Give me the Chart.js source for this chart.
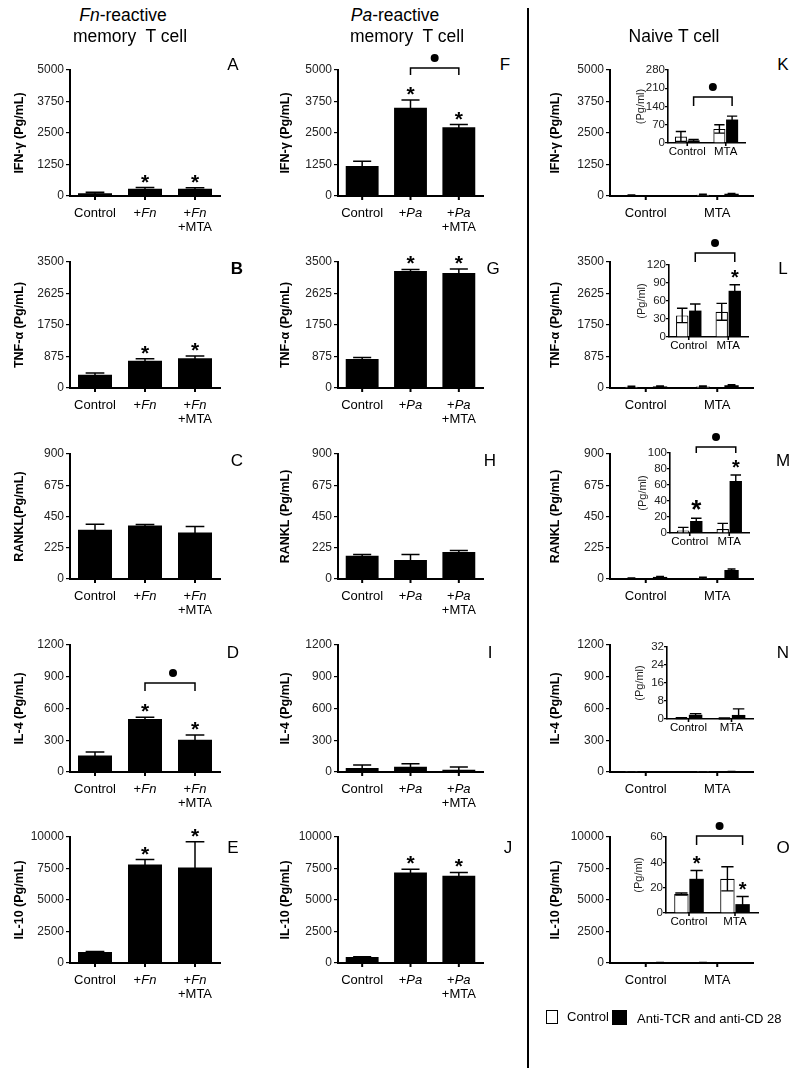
<!DOCTYPE html>
<html><head><meta charset="utf-8">
<script src="https://cdn.jsdelivr.net/npm/chart.js@4.4.1/dist/chart.umd.min.js"></script>
<style>
html,body{margin:0;padding:0;background:#fff;}
body{width:800px;height:1068px;position:relative;overflow:hidden;font-family:Arial,"Liberation Sans",sans-serif;color:#000;}
canvas{position:absolute;}
.t{position:absolute;white-space:nowrap;transform:translate(-50%,-50%);line-height:1;}
</style></head><body>
<script>
// ---------------- DATA ----------------
const categoriesFn = ["Control", "+_Fn_", "+_Fn_|+MTA"];
const categoriesPa = ["Control", "+_Pa_", "+_Pa_|+MTA"];
const categoriesNaive = ["Control", "MTA"];

// tick labels
const ticksIFN = [0, 1250, 2500, 3750, 5000];
const ticksTNF = [0, 875, 1750, 2625, 3500];
const ticksRANKL = [0, 225, 450, 675, 900];
const ticksIL4 = [0, 300, 600, 900, 1200];
const ticksIL10 = [0, 2500, 5000, 7500, 10000];
const ticksInsetIFN = [0, 70, 140, 210, 280];
const ticksInsetTNF = [0, 30, 60, 90, 120];
const ticksInsetRANKL = [0, 20, 40, 60, 80, 100];
const ticksInsetIL4 = [0, 8, 16, 24, 32];
const ticksInsetIL10 = [0, 20, 40, 60];

// Fn-reactive memory T cell (pg/mL) mean and SD
const ifnFn = [110, 290, 285];     const ifnFnSD = [40, 45, 45];
const tnfFn = [370, 760, 825];     const tnfFnSD = [45, 55, 65];
const ranklFn = [355, 385, 335];   const ranklFnSD = [40, 8, 43];
const il4Fn = [155, 500, 305];     const il4FnSD = [34, 18, 45];
const il10Fn = [870, 7820, 7580];  const il10FnSD = [50, 390, 2050];

// Pa-reactive memory T cell
const ifnPa = [1195, 3500, 2730];  const ifnPaSD = [185, 305, 105];
const tnfPa = [805, 3250, 3195];   const tnfPaSD = [45, 45, 110];
const ranklPa = [168, 136, 194];   const ranklPaSD = [9, 41, 12];
const il4Pa = [38, 50, 22];        const il4PaSD = [28, 29, 25];
const il10Pa = [474, 7185, 6920];  const il10PaSD = [20, 262, 264];

// Naive T cell: Control (open) and Anti-TCR + anti-CD28 (filled)
const ifnNaiveCtrl = [25, 54];      const ifnNaiveCtrlSD = [19, 16];
const ifnNaiveStim = [10, 90];      const ifnNaiveStimSD = [4, 13];
const tnfNaiveCtrl = [36, 42];      const tnfNaiveCtrlSD = [12, 14];
const tnfNaiveStim = [44, 77];      const tnfNaiveStimSD = [11, 10];
const ranklNaiveCtrl = [3, 5];      const ranklNaiveCtrlSD = [4, 7];
const ranklNaiveStim = [15, 65];    const ranklNaiveStimSD = [3.5, 7.5];
const il4NaiveCtrl = [0.4, 0.3];    const il4NaiveCtrlSD = [0.2, 0.2];
const il4NaiveStim = [1.9, 1.8];    const il4NaiveStimSD = [0.5, 2.7];
const il10NaiveCtrl = [15, 27];     const il10NaiveCtrlSD = [0.8, 9.5];
const il10NaiveStim = [27, 7];      const il10NaiveStimSD = [6.5, 6];

// significance (1 = *, 2 = large *)
const starsFnPa = [0, 1, 1];
const starsNone3 = [0, 0, 0];
const starsNone2 = [0, 0];
const starsStimL = [0, 1];
const starsStimM = [2, 1];
const starsStimO = [1, 1];

// ---------------- LAYOUT ----------------
const FONT = 'Arial, "Liberation Sans", sans-serif';
Chart.defaults.font.family = FONT;
Chart.defaults.color = '#000';

const COLS = [{axis:70,right:220,yw:62},{axis:338,right:483,yw:64},{axis:610,right:753,yw:66}];
const ROWS = [{top:70,bottom:196},{top:262,bottom:388},{top:454,bottom:579},{top:645,bottom:772},{top:837,bottom:963}];

const BLACK = '#000', WHITE = '#fff';

function drawMixed(ctx, str, x, y, size){
  const segs = str.split('_');
  const fonts = segs.map((s,k)=> (k%2 ? 'italic ' : '') + size + 'px ' + FONT);
  let w = 0;
  segs.forEach((s,k)=>{ ctx.font = fonts[k]; w += ctx.measureText(s).width; });
  let cx = x - w/2;
  segs.forEach((s,k)=>{ ctx.font = fonts[k]; ctx.fillText(s, cx, y); cx += ctx.measureText(s).width; });
}

function makeChart(o){
  const padT = o.padT, padR = o.padR, xh = o.xh, yw = o.yw;
  const W = (o.right - o.left) + yw + padR, H = (o.bottom - o.top) + padT + xh;
  const c = document.createElement('canvas');
  c.width = W; c.height = H;
  c.style.left = (o.left - yw) + 'px'; c.style.top = (o.top - padT) + 'px';
  c.style.width = W + 'px'; c.style.height = H + 'px';
  document.body.appendChild(c);
  const t = o.ticks;
  const deco = {
    id: 'deco',
    afterDatasetsDraw(chart){
      const ctx = chart.ctx, ys = chart.scales.y;
      ctx.save();
      ctx.strokeStyle = BLACK; ctx.lineWidth = o.errW;
      o.series.forEach((s, di)=>{
        const meta = chart.getDatasetMeta(di);
        meta.data.forEach((bar, i)=>{
          const v = s.data[i], e = s.sd[i];
          const x = bar.x, w = bar.width * o.cap;
          const yT = ys.getPixelForValue(v + e), yB = ys.getPixelForValue(Math.max(0, v - e));
          ctx.beginPath();
          ctx.moveTo(x, yB); ctx.lineTo(x, yT);
          ctx.moveTo(x - w/2, yT); ctx.lineTo(x + w/2, yT);
          if (v - e > 0) { ctx.moveTo(x - w/2, yB); ctx.lineTo(x + w/2, yB); }
          ctx.stroke();
        });
      });
      ctx.restore();
    },
    afterDraw(chart){
      const ctx = chart.ctx, xs = chart.scales.x, ys = chart.scales.y, ca = chart.chartArea;
      ctx.save();
      ctx.fillStyle = BLACK; ctx.strokeStyle = BLACK;
      // x tick marks and labels
      ctx.lineWidth = o.axisW;
      ctx.textAlign = 'left'; ctx.textBaseline = 'middle';
      o.cats.forEach((lab, i)=>{
        const x = xs.getPixelForValue(i);
        ctx.beginPath(); ctx.moveTo(x, ca.bottom); ctx.lineTo(x, ca.bottom + o.xtick); ctx.stroke();
        lab.split('|').forEach((ln, k)=> drawMixed(ctx, ln, x, ca.bottom + o.xl1 + k*o.xlh, o.xFont));
      });
      // stars
      ctx.textAlign = 'center'; ctx.textBaseline = 'alphabetic';
      o.series.forEach((s, di)=>{
        if (!s.stars) return;
        const meta = chart.getDatasetMeta(di);
        s.stars.forEach((st, i)=>{
          if (!st) return;
          const size = st === 2 ? o.starBig : o.star;
          const yT = ys.getPixelForValue(s.data[i] + s.sd[i]);
          const gap = st === 2 ? o.starGap + 3 : o.starGap;
          ctx.font = 'bold ' + size + 'px ' + FONT;
          ctx.fillText('*', meta.data[i].x, yT - gap + 0.57*size);
        });
      });
      // bracket
      if (o.bracket){
        const b = o.bracket;
        const xa = chart.getDatasetMeta(b.a[0]).data[b.a[1]].x;
        const xb = chart.getDatasetMeta(b.b[0]).data[b.b[1]].x;
        const y = ys.getPixelForValue(b.val);
        ctx.lineWidth = 1.5;
        ctx.beginPath();
        ctx.moveTo(xa, y + b.drop); ctx.lineTo(xa, y); ctx.lineTo(xb, y); ctx.lineTo(xb, y + b.drop);
        ctx.stroke();
        ctx.beginPath(); ctx.arc((xa + xb)/2 + (b.dx||0), y - 10, 4, 0, Math.PI*2); ctx.fill();
      }
      ctx.restore();
    }
  };
  new Chart(c, {
    type: 'bar',
    data: {
      labels: o.cats.map(s => s.replace(/_/g,'').replace('|',' ')),
      datasets: o.series.map(s => ({
        data: s.data,
        backgroundColor: s.fill,
        borderColor: BLACK,
        borderWidth: s.fill === WHITE ? 1.2 : 0,
        borderSkipped: 'start',
        barPercentage: o.barPct,
        categoryPercentage: o.catPct
      }))
    },
    options: {
      responsive: false, animation: false,
      layout: { padding: { top: padT, right: padR, left: 0, bottom: 0 } },
      plugins: { legend: { display: false }, tooltip: { enabled: false } },
      scales: {
        x: {
          offset: true,
          grid: { display: false },
          border: { display: true, color: BLACK, width: o.axisW },
          ticks: { display: false },
          afterFit: s => { s.height = xh; }
        },
        y: {
          min: t[0], max: t[t.length-1],
          grid: { drawOnChartArea: false, drawTicks: true, tickLength: o.ytick, color: BLACK, lineWidth: 1.2 },
          border: { display: true, color: BLACK, width: o.axisW },
          ticks: { stepSize: t[1] - t[0], autoSkip: false, callback: v => String(v), color: '#222', font: { size: o.yFont }, padding: o.yPad },
          title: { display: true, text: o.title, color: o.titleColor, font: { size: o.titleSize, weight: o.titleWeight }, padding: { top: o.titlePad, bottom: 0 } },
          afterFit: s => { s.width = yw; }
        }
      }
    },
    plugins: [deco]
  });
}

function mainPanel(col, row, cats, series, ticks, title, bracket){
  const C = COLS[col], R = ROWS[row];
  const naive = col === 2;
  makeChart({
    left: C.axis, right: C.right, top: R.top, bottom: R.bottom,
    yw: C.yw, padT: 26, padR: 8, xh: 46,
    cats, series, ticks, title, bracket,
    barPct: naive ? 0.5 : 0.68, catPct: naive ? 0.8 : 1.0,
    cap: 0.55, errW: 1.5, axisW: 2, xtick: 4, ytick: 4,
    xFont: 13, xl1: 17, xlh: 14, yFont: 12, yPad: 2,
    titleSize: 12.5, titleWeight: 'bold', titleColor: '#000', titlePad: 4,
    star: 21, starBig: 26, starGap: 11
  });
}

function insetPanel(box, series, ticks, bracket){
  makeChart({
    left: box[0], right: box[1], top: box[2], bottom: box[3],
    yw: 34, padT: 36, padR: 6, xh: 24,
    cats: categoriesNaive, series, ticks, title: '(Pg/ml)', bracket,
    barPct: 0.95, catPct: 0.66,
    cap: 0.85, errW: 1.4, axisW: 1.6, xtick: 3, ytick: 3,
    xFont: 11.5, xl1: 9, xlh: 12, yFont: 11.5, yPad: 0,
    titleSize: 11, titleWeight: 'normal', titleColor: '#222', titlePad: 0,
    star: 20, starBig: 26, starGap: 12
  });
}

const S = (data, sd, stars, fill) => ({ data, sd, stars, fill: fill || BLACK });

// Column 1: Fn-reactive
mainPanel(0,0,categoriesFn,[S(ifnFn,ifnFnSD,starsFnPa)],ticksIFN,'IFN-γ (Pg/mL)');
mainPanel(0,1,categoriesFn,[S(tnfFn,tnfFnSD,starsFnPa)],ticksTNF,'TNF-α (Pg/mL)');
mainPanel(0,2,categoriesFn,[S(ranklFn,ranklFnSD,starsNone3)],ticksRANKL,'RANKL(Pg/mL)');
mainPanel(0,3,categoriesFn,[S(il4Fn,il4FnSD,starsFnPa)],ticksIL4,'IL-4 (Pg/mL)',{a:[0,1],b:[0,2],val:841,drop:8,dx:3});
mainPanel(0,4,categoriesFn,[S(il10Fn,il10FnSD,starsFnPa)],ticksIL10,'IL-10 (Pg/mL)');
// Column 2: Pa-reactive
mainPanel(1,0,categoriesPa,[S(ifnPa,ifnPaSD,starsFnPa)],ticksIFN,'IFN-γ (Pg/mL)',{a:[0,1],b:[0,2],val:5080,drop:7});
mainPanel(1,1,categoriesPa,[S(tnfPa,tnfPaSD,starsFnPa)],ticksTNF,'TNF-α (Pg/mL)');
mainPanel(1,2,categoriesPa,[S(ranklPa,ranklPaSD,starsNone3)],ticksRANKL,'RANKL (Pg/mL)');
mainPanel(1,3,categoriesPa,[S(il4Pa,il4PaSD,starsNone3)],ticksIL4,'IL-4 (Pg/mL)');
mainPanel(1,4,categoriesPa,[S(il10Pa,il10PaSD,starsFnPa)],ticksIL10,'IL-10 (Pg/mL)');
// Column 3: Naive
mainPanel(2,0,categoriesNaive,[S(ifnNaiveCtrl,ifnNaiveCtrlSD,null,WHITE),S(ifnNaiveStim,ifnNaiveStimSD,null)],ticksIFN,'IFN-γ (Pg/mL)');
mainPanel(2,1,categoriesNaive,[S(tnfNaiveCtrl,tnfNaiveCtrlSD,null,WHITE),S(tnfNaiveStim,tnfNaiveStimSD,null)],ticksTNF,'TNF-α (Pg/mL)');
mainPanel(2,2,categoriesNaive,[S(ranklNaiveCtrl,ranklNaiveCtrlSD,null,WHITE),S(ranklNaiveStim,ranklNaiveStimSD,null)],ticksRANKL,'RANKL (Pg/mL)');
mainPanel(2,3,categoriesNaive,[S(il4NaiveCtrl,il4NaiveCtrlSD,null,WHITE),S(il4NaiveStim,il4NaiveStimSD,null)],ticksIL4,'IL-4 (Pg/mL)');
mainPanel(2,4,categoriesNaive,[S(il10NaiveCtrl,il10NaiveCtrlSD,null,WHITE),S(il10NaiveStim,il10NaiveStimSD,null)],ticksIL10,'IL-10 (Pg/mL)');
// Insets
insetPanel([668,745,70,143],[S(ifnNaiveCtrl,ifnNaiveCtrlSD,starsNone2,WHITE),S(ifnNaiveStim,ifnNaiveStimSD,starsNone2)],ticksInsetIFN,{a:[1,0],b:[1,1],val:176,drop:9});
insetPanel([669,748,265,337],[S(tnfNaiveCtrl,tnfNaiveCtrlSD,starsNone2,WHITE),S(tnfNaiveStim,tnfNaiveStimSD,starsStimL)],ticksInsetTNF,{a:[1,0],b:[1,1],val:140,drop:9});
insetPanel([670,749,453,533],[S(ranklNaiveCtrl,ranklNaiveCtrlSD,starsNone2,WHITE),S(ranklNaiveStim,ranklNaiveStimSD,starsStimM)],ticksInsetRANKL,{a:[1,0],b:[1,1],val:107.5,drop:6});
insetPanel([667,753,647,719],[S(il4NaiveCtrl,il4NaiveCtrlSD,starsNone2,WHITE),S(il4NaiveStim,il4NaiveStimSD,starsNone2)],ticksInsetIL4);
insetPanel([666,758,837,913],[S(il10NaiveCtrl,il10NaiveCtrlSD,starsNone2,WHITE),S(il10NaiveStim,il10NaiveStimSD,starsStimO)],ticksInsetIL10,{a:[1,0],b:[1,1],val:60.8,drop:9});

// ---------------- TEXT ----------------
function txt(html, x, y, css){
  const d = document.createElement('div');
  d.className = 't'; d.innerHTML = html;
  d.style.left = x + 'px'; d.style.top = y + 'px';
  d.style.cssText += css || '';
  document.body.appendChild(d);
}
const H = 'font-size:17.5px;';
txt('<i>Fn</i>-reactive', 123, 16, H);
txt('memory&nbsp; T cell', 130, 37, H);
txt('<i>Pa</i>-reactive', 395, 16, H);
txt('memory&nbsp; T cell', 407, 37, H);
txt('Naive T cell', 674, 37, H);

const L = 'font-size:17px;';
[['A',233,64],['B',237,268,'font-weight:bold;'],['C',237,460],['D',233,652],['E',233,847],
 ['F',505,64],['G',493,268],['H',490,460],['I',490,652],['J',508,847],
 ['K',783,64],['L',783,268],['M',783,460],['N',783,652],['O',783,847]].forEach(a=>txt(a[0],a[1],a[2],L+(a[3]||'')));

// divider
const dv = document.createElement('div');
dv.style.cssText = 'position:absolute;left:527px;top:8px;width:2px;height:1060px;background:#000;';
document.body.appendChild(dv);

// legend
const box1 = document.createElement('div');
box1.style.cssText = 'position:absolute;left:546px;top:1010px;width:10px;height:12px;border:1.5px solid #000;background:#fff;';
document.body.appendChild(box1);
const box2 = document.createElement('div');
box2.style.cssText = 'position:absolute;left:612px;top:1010px;width:15px;height:15px;background:#000;';
document.body.appendChild(box2);
const lg1 = document.createElement('div');
lg1.style.cssText = 'position:absolute;left:567px;top:1010px;font-size:13px;line-height:1;white-space:nowrap;';
lg1.textContent = 'Control'; document.body.appendChild(lg1);
const lg2 = document.createElement('div');
lg2.style.cssText = 'position:absolute;left:637px;top:1012px;font-size:13px;line-height:1;white-space:nowrap;';
lg2.textContent = 'Anti-TCR and anti-CD 28'; document.body.appendChild(lg2);
</script>
</body></html>
